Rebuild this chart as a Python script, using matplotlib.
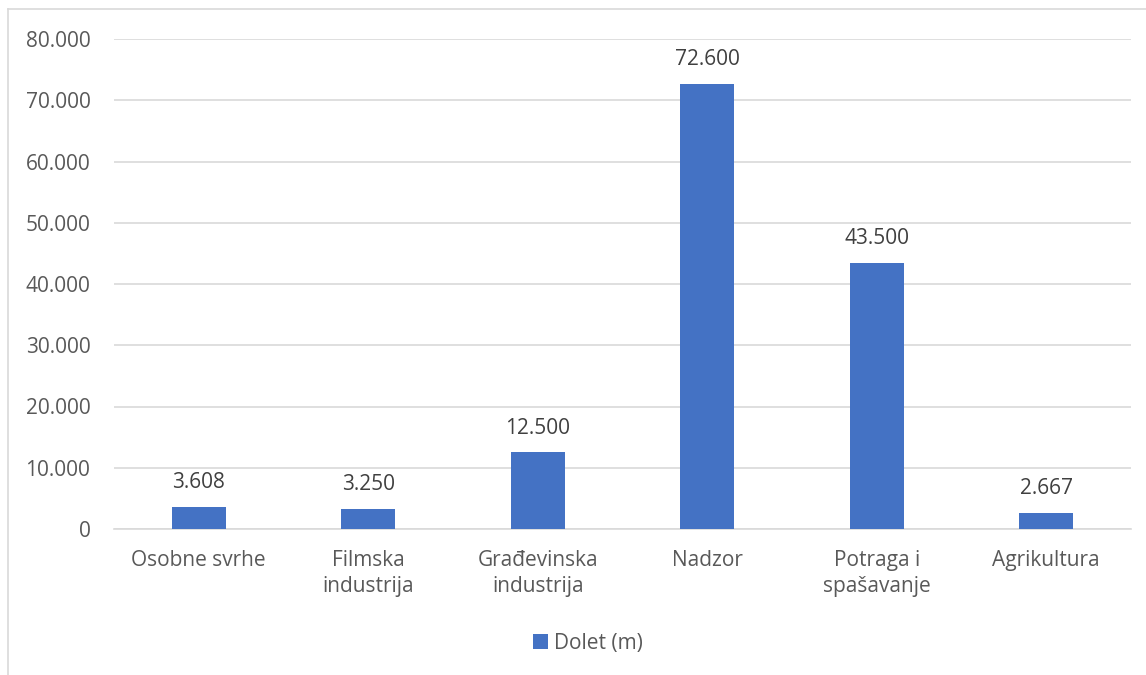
import matplotlib
matplotlib.use("Agg")
import matplotlib.pyplot as plt
from matplotlib.lines import Line2D
from matplotlib.ticker import FuncFormatter

categories = ["Osobne svrhe", "Filmska\nindustrija", "Građevinska\nindustrija",
              "Nadzor", "Potraga i\nspašavanje", "Agrikultura"]
values = [3608, 3250, 12500, 72600, 43500, 2667]
series_name = "Dolet (m)"
y_ticks = [0, 10000, 20000, 30000, 40000, 50000, 60000, 70000, 80000]


def fmt(v):
    return f"{int(v):,}".replace(",", ".")


plt.rcParams['font.family'] = ['Open Sans', 'DejaVu Sans']

W, H = 1146, 675
FS = 15
fig = plt.figure(figsize=(W / 100, H / 100), dpi=100)
ax = fig.add_axes([114 / W, 1 - 529 / H, (1131 - 114) / W, (529 - 39) / H])

x = list(range(len(categories)))
bars = ax.bar(x, values, width=0.32, color='#4472C4', label=series_name, zorder=3)

for xi, v in zip(x, values):
    ax.annotate(fmt(v), (xi, v), xytext=(0, 10), textcoords='offset points',
                ha='center', va='bottom', fontsize=FS, color='#404040')

ax.set_xlim(-0.5, len(categories) - 0.5)
ax.set_ylim(0, 80000)
ax.set_yticks(y_ticks)
ax.yaxis.set_major_formatter(FuncFormatter(lambda v, p: fmt(v)))
ax.set_xticks(x)
ax.set_xticklabels(categories, va='top', linespacing=1.3)
ax.tick_params(axis='both', length=0, colors='#595959', labelsize=FS)
ax.tick_params(axis='y', pad=17)
ax.tick_params(axis='x', pad=15)
ax.grid(axis='y', color='#d9d9d9', linewidth=1.2, zorder=0)
for s in ['top', 'right', 'left']:
    ax.spines[s].set_visible(False)
ax.spines['bottom'].set_color('#d9d9d9')
ax.spines['bottom'].set_linewidth(1.2)

fig.legend(handles=[bars], labels=[series_name], loc='center',
           bbox_to_anchor=(588 / W, 1 - 643 / H), frameon=False,
           fontsize=FS, labelcolor='#595959', handlelength=0.7,
           handleheight=0.7, handletextpad=0.3)

# chart area border (only left and top edges visible in the crop)
fig.add_artist(Line2D([8 / W, 8 / W], [1 - 9 / H, 0], transform=fig.transFigure,
                      color='#d9d9d9', linewidth=1.2))
fig.add_artist(Line2D([8 / W, 1], [1 - 9 / H, 1 - 9 / H], transform=fig.transFigure,
                      color='#d9d9d9', linewidth=1.2))

fig.savefig("out.png", dpi=100, facecolor='white')
